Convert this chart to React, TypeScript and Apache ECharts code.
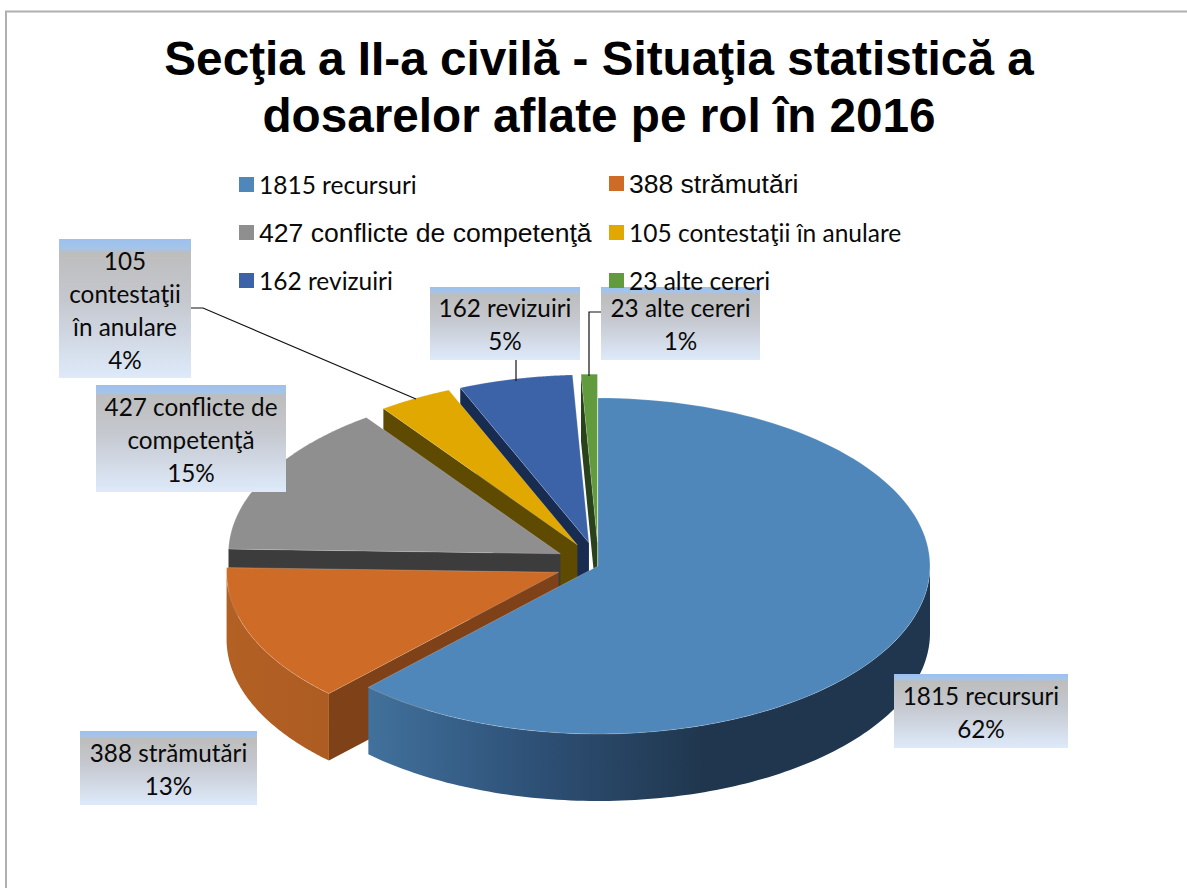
import React, { useEffect, useRef } from "react";
import * as echarts from "echarts";

const titleText = "Secţia a II-a civilă - Situaţia statistică a\ndosarelor aflate pe rol în 2016";
const categories = ["1815 recursuri", "388 strămutări", "427 conflicte de competenţă", "105 contestaţii în anulare", "162 revizuiri", "23 alte cereri"];
const values = [1815, 388, 427, 105, 162, 23];
const percents = [62, 13, 15, 4, 5, 1];
const labelLines = [["1815 recursuri"], ["388 strămutări"], ["427 conflicte de", "competenţă"], ["105", "contestaţii", "în anulare"], ["162 revizuiri"], ["23 alte cereri"]];
const topColors = ["#4f87ba", "#cd6b27", "#8f8f8f", "#e0a800", "#3c63a8", "#629b3e"];
const cutColors = ["#2f5278", "#7f4118", "#3c3c3c", "#5e4a00", "#172c50", "#2a421b"];

const CX = 598, CY = 566, RX = 332, RY = 168, DEPTH = 67, EXPLODE = 0.13;
const total = values.reduce((a, b) => a + b, 0);
const pt = (c: number[], a: number, dy = 0) => [c[0] + RX * Math.sin(a), c[1] - RY * Math.cos(a) + dy];

function sliceGroup(i: number) {
  const before = values.slice(0, i).reduce((a, b) => a + b, 0);
  const a0 = (before / total) * Math.PI * 2;
  const a1 = ((before + values[i]) / total) * Math.PI * 2;
  const mid = (a0 + a1) / 2;
  const k = i === 0 ? 0 : EXPLODE;
  const c = [CX + k * RX * Math.sin(mid) + (i === 0 ? 0 : 0.5), CY - k * RY * Math.cos(mid) - (i === 0 ? 0 : 2)];
  const steps = 120;
  const arc: number[][] = [];
  for (let s = 0; s <= steps; s++) arc.push(pt(c, a0 + ((a1 - a0) * s) / steps));
  const children: any[] = [];

  // radial cut faces that look towards the viewer
  const face = (a: number, fill: string) => {
    const p = pt(c, a);
    children.push({
      type: "polygon",
      shape: { points: [c, p, [p[0], p[1] + DEPTH], [c[0], c[1] + DEPTH]] },
      style: { fill },
    });
  };
  if (i > 0) face(a0, cutColors[i]);

  // outer wall on the front half of the rim
  const w0 = Math.max(a0, Math.PI / 2);
  const w1 = Math.min(a1, Math.PI * 1.5);
  if (w1 > w0) {
    const upper: number[][] = [];
    const lower: number[][] = [];
    for (let s = 0; s <= steps; s++) {
      const a = w0 + ((w1 - w0) * s) / steps;
      upper.push(pt(c, a));
      lower.push(pt(c, a, DEPTH));
    }
    const fill =
      i === 0
        ? { type: "linear", x: 0, y: 0, x2: 1, y2: 0, colorStops: [
            { offset: 0, color: "#41719c" },
            { offset: 0.28, color: "#2f5278" },
            { offset: 0.6, color: "#20364e" },
            { offset: 1, color: "#20364e" },
          ] }
        : { type: "linear", x: 0, y: 0, x2: 1, y2: 0, colorStops: [
            { offset: 0, color: "#b36024" },
            { offset: 1, color: "#ad5c22" },
          ] };
    children.push({
      type: "polygon",
      shape: { points: upper.concat(lower.reverse()) },
      style: { fill },
    });
  }

  children.push({
    type: "polygon",
    shape: { points: [c, ...arc] },
    style: { fill: topColors[i], stroke: "rgba(255,255,255,0.2)", lineWidth: 1 },
  });
  return { type: "group", children };
}

const boxes = [
  { x: 894, y: 674, w: 174, h: 74, cy: 712 },
  { x: 80, y: 731, w: 177, h: 74, cy: 769 },
  { x: 96, y: 385, w: 190, h: 107, cy: 439 },
  { x: 59, y: 239, w: 132, h: 139, cy: 310 },
  { x: 430, y: 287, w: 150, h: 73, cy: 324 },
  { x: 601, y: 287, w: 159, h: 73, cy: 324 },
];
const leaders = [
  [[191, 308], [203, 308], [416, 399]],
  [[516, 360], [516, 381]],
  [[601, 312], [589, 312], [589, 376]],
];
const legendSpots = [
  { left: 239, top: 172, fontFamily: "Lato", fontSize: 24.5 },
  { left: 609, top: 170, fontFamily: "Liberation Sans", fontSize: 26.5 },
  { left: 239, top: 219, fontFamily: "Liberation Sans", fontSize: 26.6 },
  { left: 609, top: 220, fontFamily: "Lato", fontSize: 24.5 },
  { left: 239, top: 268, fontFamily: "Lato", fontSize: 24.5 },
  { left: 609, top: 268, fontFamily: "Lato", fontSize: 24.5 },
];

const boxFill = {
  type: "linear", x: 0, y: 0, x2: 0, y2: 1,
  colorStops: [
    { offset: 0, color: "#9cc0ee" },
    { offset: 0.07, color: "#a5c4e8" },
    { offset: 0.1, color: "#bdbdbd" },
    { offset: 0.45, color: "#c5c8cf" },
    { offset: 1, color: "#deeafa" },
  ],
};

export default function App() {
  const ref = useRef<HTMLDivElement>(null);
  useEffect(() => {
    document.body.style.margin = "0";
    const chart = echarts.init(ref.current!, undefined, { renderer: "svg" });
    const drawOrder = [5, 4, 3, 2, 1, 0];
    const graphic: any[] = [
      { type: "polyline", z: 1, silent: true, shape: { points: [[6, 888], [6, 11.5], [1187, 11.5]] }, style: { fill: "none", stroke: "#b0b0b0", lineWidth: 2 } },
    ];
    boxes.forEach((b, i) => {
      graphic.push({ type: "rect", z: 100, silent: true, shape: { x: b.x, y: b.y, width: b.w, height: b.h }, style: { fill: boxFill } });
      graphic.push({
        type: "text", z: 101, silent: true, x: b.x + b.w / 2, y: b.cy,
        style: {
          text: [...labelLines[i], percents[i] + "%"].join("\n"),
          fontFamily: "Lato", fontSize: 24.3, lineHeight: 33, fill: "#0a0a0a", align: "center", verticalAlign: "middle",
        },
      });
    });
    leaders.forEach((p) => {
      graphic.push({ type: "polyline", z: 99, silent: true, shape: { points: p }, style: { fill: "none", stroke: "#111", lineWidth: 1.2 } });
    });
    chart.setOption({
      animation: false,
      backgroundColor: "#ffffff",
      title: {
        text: titleText, left: 599, top: 30, textAlign: "center", padding: 0,
        textStyle: { fontFamily: "Liberation Sans", fontWeight: "bold", fontSize: 47.7, lineHeight: 57, color: "#000" },
      },
      legend: legendSpots.map((s, i) => ({
        data: [categories[i]], left: s.left, top: s.top, padding: 0, z: 200,
        itemWidth: 15, itemHeight: 15, selectedMode: false, icon: "rect",
        textStyle: { fontFamily: s.fontFamily, fontSize: s.fontSize, color: "#0a0a0a" },
      })),
      graphic,
      series: drawOrder.map((i) => ({
        type: "custom",
        name: categories[i],
        coordinateSystem: "none",
        silent: true,
        itemStyle: { color: topColors[i] },
        data: [[values[i]]],
        renderItem: () => sliceGroup(i),
      })),
    });
    return () => chart.dispose();
  }, []);
  return <div ref={ref} style={{ width: 1187, height: 888 }} />;
}
